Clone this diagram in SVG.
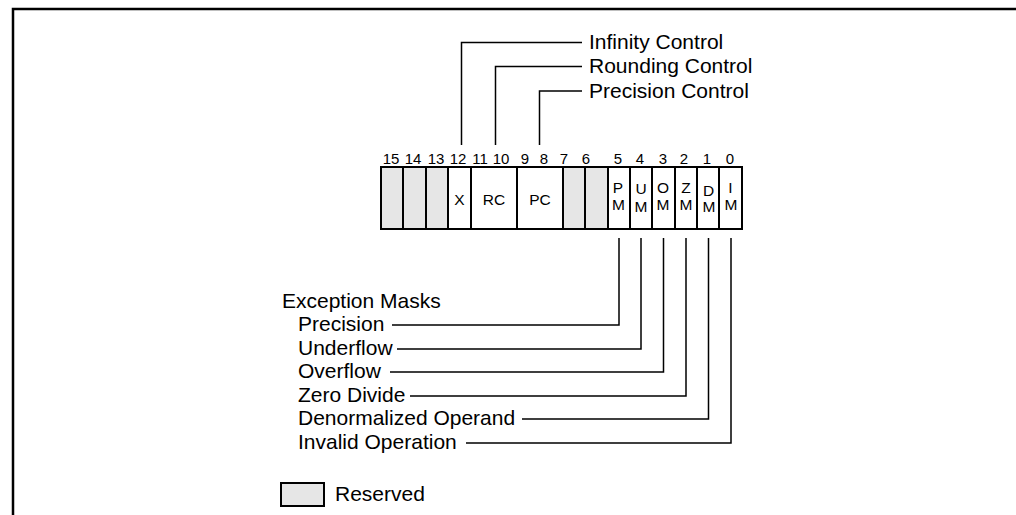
<svg xmlns="http://www.w3.org/2000/svg" width="1016" height="515" viewBox="0 0 1016 515">
<style>
text{font-family:"Liberation Sans",Arial,sans-serif;fill:#000}
.lbl{font-size:21px}
.bit{font-size:15px;text-anchor:middle}
.cell{font-size:15.5px;text-anchor:middle}
.ln{fill:none;stroke:#000;stroke-width:1.5}
.box{stroke:#000;stroke-width:2}
.res{fill:#e6e6e6}
.clr{fill:#fff}
</style>
<rect width="1016" height="515" fill="#fff"/>
<path d="M13,515 V9 H1016" fill="none" stroke="#000" stroke-width="2.5"/>

<g id="bit-numbers">
<text class="bit" x="391" y="164">15</text>
<text class="bit" x="413" y="164">14</text>
<text class="bit" x="436" y="164">13</text>
<text class="bit" x="458" y="164">12</text>
<text class="bit" x="480" y="164">11</text>
<text class="bit" x="501" y="164">10</text>
<text class="bit" x="525" y="164">9</text>
<text class="bit" x="544" y="164">8</text>
<text class="bit" x="564" y="164">7</text>
<text class="bit" x="586" y="164">6</text>
<text class="bit" x="618" y="164">5</text>
<text class="bit" x="640" y="164">4</text>
<text class="bit" x="663" y="164">3</text>
<text class="bit" x="684" y="164">2</text>
<text class="bit" x="707" y="164">1</text>
<text class="bit" x="730" y="164">0</text>
</g>

<g id="register">
<rect id="b15" class="box res" x="381" y="167" width="22" height="62"/>
<rect id="b14" class="box res" x="403" y="167" width="23" height="62"/>
<rect id="b13" class="box res" x="426" y="167" width="22" height="62"/>
<g id="X"><rect class="box clr" x="448" y="167" width="23" height="62"/><text class="cell" x="459.5" y="205">X</text></g>
<g id="RC"><rect class="box clr" x="471" y="167" width="46" height="62"/><text class="cell" x="494" y="205">RC</text></g>
<g id="PC"><rect class="box clr" x="517" y="167" width="46" height="62"/><text class="cell" x="540" y="205">PC</text></g>
<rect id="b7" class="box res" x="563" y="167" width="22" height="62"/>
<rect id="b6" class="box res" x="585" y="167" width="23" height="62"/>
<g id="PM"><rect class="box clr" x="608" y="167" width="22" height="62"/><text class="cell" x="618" y="193">P</text><text class="cell" x="618.5" y="210">M</text></g>
<g id="UM"><rect class="box clr" x="630" y="167" width="22" height="62"/><text class="cell" x="641" y="194">U</text><text class="cell" x="641" y="212">M</text></g>
<g id="OM"><rect class="box clr" x="652" y="167" width="23" height="62"/><text class="cell" x="663" y="193">O</text><text class="cell" x="663" y="210">M</text></g>
<g id="ZM"><rect class="box clr" x="675" y="167" width="22" height="62"/><text class="cell" x="686" y="193">Z</text><text class="cell" x="686" y="210">M</text></g>
<g id="DM"><rect class="box clr" x="697" y="167" width="22" height="62"/><text class="cell" x="708.5" y="196">D</text><text class="cell" x="709" y="212">M</text></g>
<g id="IM"><rect class="box clr" x="719" y="167" width="23" height="62"/><text class="cell" x="730.5" y="193">I</text><text class="cell" x="731" y="210">M</text></g>
</g>

<g id="top-labels">
<text class="lbl" x="589" y="49">Infinity Control</text>
<text class="lbl" x="589" y="73">Rounding Control</text>
<text class="lbl" x="589" y="98">Precision Control</text>
</g>

<g id="mask-labels">
<text class="lbl" x="282" y="308">Exception Masks</text>
<text class="lbl" x="298" y="331">Precision</text>
<text class="lbl" x="298" y="355">Underflow</text>
<text class="lbl" x="298" y="378">Overflow</text>
<text class="lbl" x="298" y="402">Zero Divide</text>
<text class="lbl" x="298" y="425">Denormalized Operand</text>
<text class="lbl" x="298" y="449">Invalid Operation</text>
</g>

<g id="connectors">
<path class="ln" d="M461.5,145 V42.5 H582"/>
<path class="ln" d="M495.5,145 V66.5 H582"/>
<path class="ln" d="M539.5,145 V91 H582"/>
<path class="ln" d="M619,238 V325 H392"/>
<path class="ln" d="M641,238 V349 H397"/>
<path class="ln" d="M663.5,238 V372 H390"/>
<path class="ln" d="M686,238 V396 H410"/>
<path class="ln" d="M708.5,238 V419 H522"/>
<path class="ln" d="M731,238 V443 H466"/>
</g>

<g id="legend">
<rect class="box res" x="281" y="483" width="43" height="23" stroke-width="1.5"/>
<text class="lbl" x="335" y="501">Reserved</text>
</g>
</svg>
